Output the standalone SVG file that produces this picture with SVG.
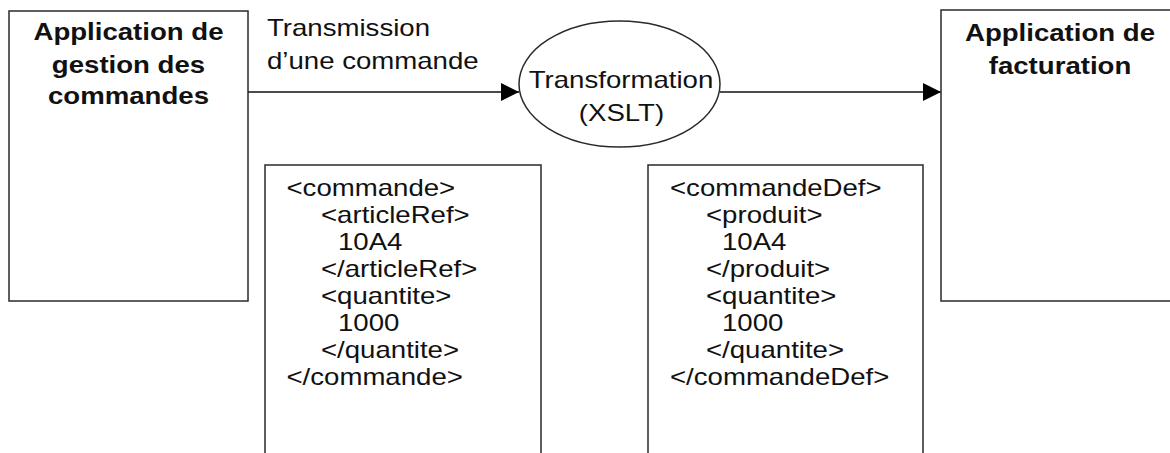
<svg xmlns="http://www.w3.org/2000/svg" width="1170" height="453" viewBox="0 0 1170 453">
<style>
  .bg { fill: #ffffff; }
  .shape { fill: #ffffff; stroke: #2a2a2a; stroke-width: 1.5; }
  .open { fill: none; stroke: #2a2a2a; stroke-width: 1.5; }
  .edge { fill: none; stroke: #111111; stroke-width: 1.5; }
  text { font-family: "Liberation Sans", Arial, sans-serif; font-size: 23px; fill: #111111; }
  .title { font-weight: bold; text-anchor: middle; }
  .mid { text-anchor: middle; }
</style>
<defs>
  <marker id="arrow" viewBox="0 0 18 18" refX="18" refY="9" markerWidth="18" markerHeight="18" markerUnits="userSpaceOnUse" orient="auto">
    <path d="M0,0 L18,9 L0,18 Z" fill="#000000"/>
  </marker>
</defs>
<rect class="bg" x="0" y="0" width="1170" height="453"/>

<g id="connectors">
  <line class="edge" x1="248" y1="92" x2="519" y2="92" marker-end="url(#arrow)"/>
  <line class="edge" x1="720" y1="92" x2="941" y2="92" marker-end="url(#arrow)"/>
  <g transform="translate(267,36) scale(1.2,1)"><text x="0" y="0">Transmission</text></g>
  <g transform="translate(267,69) scale(1.2,1)"><text x="0" y="0">d’une commande</text></g>
</g>

<g id="app-commandes">
  <rect class="shape" x="9" y="11" width="239" height="290"/>
  <g transform="translate(128.5,40) scale(1.2,1)"><text class="title" x="0" y="0">Application de</text></g>
  <g transform="translate(128.5,72.5) scale(1.2,1)"><text class="title" x="0" y="0">gestion des</text></g>
  <g transform="translate(128.5,104) scale(1.2,1)"><text class="title" x="0" y="0">commandes</text></g>
</g>

<g id="transformation">
  <ellipse class="shape" cx="619.5" cy="84" rx="100.5" ry="63"/>
  <g transform="translate(621,88) scale(1.2,1)"><text class="mid" x="0" y="0">Transformation</text></g>
  <g transform="translate(621.5,121) scale(1.2,1)"><text class="mid" x="0" y="0">(XSLT)</text></g>
</g>

<g id="app-facturation">
  <path class="open" d="M1171,10 H941 V301 H1171"/>
  <g transform="translate(1060,41) scale(1.2,1)"><text class="title" x="0" y="0">Application de</text></g>
  <g transform="translate(1060,74) scale(1.2,1)"><text class="title" x="0" y="0">facturation</text></g>
</g>

<g id="xml-commande">
  <path class="open" d="M265,454 V165 H541 V454"/>
  <g transform="translate(286.5,196) scale(1.2,1)"><text x="0" y="0">&lt;commande&gt;</text></g>
  <g transform="translate(321,223) scale(1.2,1)"><text x="0" y="0">&lt;articleRef&gt;</text></g>
  <g transform="translate(338,250) scale(1.2,1)"><text x="0" y="0">10A4</text></g>
  <g transform="translate(321,277) scale(1.2,1)"><text x="0" y="0">&lt;/articleRef&gt;</text></g>
  <g transform="translate(321,304) scale(1.2,1)"><text x="0" y="0">&lt;quantite&gt;</text></g>
  <g transform="translate(338,331) scale(1.2,1)"><text x="0" y="0">1000</text></g>
  <g transform="translate(321,358) scale(1.2,1)"><text x="0" y="0">&lt;/quantite&gt;</text></g>
  <g transform="translate(286.5,385) scale(1.2,1)"><text x="0" y="0">&lt;/commande&gt;</text></g>
</g>

<g id="xml-commandeDef">
  <path class="open" d="M648,454 V165 H923 V454"/>
  <g transform="translate(670,196) scale(1.2,1)"><text x="0" y="0">&lt;commandeDef&gt;</text></g>
  <g transform="translate(706,223) scale(1.2,1)"><text x="0" y="0">&lt;produit&gt;</text></g>
  <g transform="translate(722,250) scale(1.2,1)"><text x="0" y="0">10A4</text></g>
  <g transform="translate(706,277) scale(1.2,1)"><text x="0" y="0">&lt;/produit&gt;</text></g>
  <g transform="translate(706,304) scale(1.2,1)"><text x="0" y="0">&lt;quantite&gt;</text></g>
  <g transform="translate(722,331) scale(1.2,1)"><text x="0" y="0">1000</text></g>
  <g transform="translate(706,358) scale(1.2,1)"><text x="0" y="0">&lt;/quantite&gt;</text></g>
  <g transform="translate(670,385) scale(1.2,1)"><text x="0" y="0">&lt;/commandeDef&gt;</text></g>
</g>
</svg>
